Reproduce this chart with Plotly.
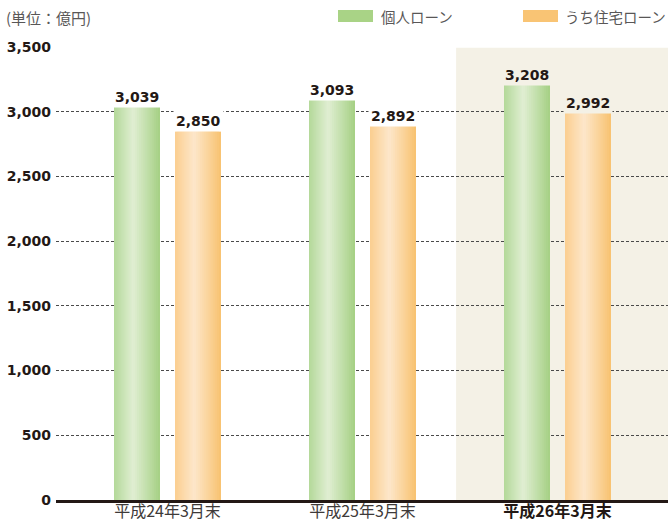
import plotly.graph_objects as go

# ---------------- data ----------------
categories = ["平成24年3月末", "平成25年3月末", "平成26年3月末"]
series_names = ["個人ローン", "うち住宅ローン"]
kojin_loan = [3039, 3093, 3208]
jutaku_loan = [2850, 2892, 2992]
y_ticks = [0, 500, 1000, 1500, 2000, 2500, 3000, 3500]
unit_label = "(単位：億円)"
highlight_index = 2

# ---------------- style ----------------
W, H = 668, 522
ML, MR, MT, MB = 56, 0, 47, 22
PX_PER_CAT = 195.0
X_RANGE = [-111.5 / PX_PER_CAT, -111.5 / PX_PER_CAT + (W - ML - MR) / PX_PER_CAT]
BAR_W = 46 / PX_PER_CAT
CENTER_OFF = 30.5 / PX_PER_CAT

NUM_FONT = "DejaVu Sans"
CJK_FONT = "Noto Sans CJK JP"
DARK = "#231815"
GRAY = "#595757"
SHADE = "#f4f1e6"

# gradient (left edge, centre, right edge, legend colour)
grad = [
    ("#b5d99b", "#e2efd5", "#a7d186", "#a9d386"),
    ("#fbcf92", "#fde8cd", "#f8c373", "#f9c474"),
]
TC = 0.42
N = 14


def hex2rgb(h):
    h = h.lstrip("#")
    return tuple(int(h[i:i + 2], 16) for i in (0, 2, 4))


def lerp(c1, c2, t):
    a, b = hex2rgb(c1), hex2rgb(c2)
    return "rgb({},{},{})".format(*[round(a[i] + (b[i] - a[i]) * t) for i in range(3)])


fig = go.Figure()
series_values = [kojin_loan, jutaku_loan]

for s, vals in enumerate(series_values):
    left_c, mid_c, right_c, _ = grad[s]
    cen = -CENTER_OFF if s == 0 else CENTER_OFF
    start = cen - BAR_W / 2
    for k in range(N):
        f = k / N
        l = TC * f
        r = TC + 0.03
        fig.add_trace(go.Bar(
            x=categories, y=vals, width=(r - l) * BAR_W, offset=start + l * BAR_W,
            marker=dict(color=lerp(left_c, mid_c, f), line=dict(width=0)),
            hoverinfo="skip" if k else "x+y", showlegend=False, name=series_names[s]))
    for k in range(N):
        f = k / N
        l = TC
        r = 1 - (1 - TC) * f
        fig.add_trace(go.Bar(
            x=categories, y=vals, width=(r - l) * BAR_W, offset=start + l * BAR_W,
            marker=dict(color=lerp(right_c, mid_c, f), line=dict(width=0)),
            hoverinfo="skip", showlegend=False, name=series_names[s]))

annotations = []
for s, vals in enumerate(series_values):
    cen_px = (-CENTER_OFF if s == 0 else CENTER_OFF) * PX_PER_CAT
    for i, v in enumerate(vals):
        annotations.append(dict(
            x=categories[i], y=v, xref="x", yref="y", xshift=cen_px, yshift=-1,
            text=f"{v:,}", showarrow=False, yanchor="bottom", xanchor="center",
            font=dict(family=NUM_FONT, size=14, color=DARK, weight="bold"),
            bgcolor=SHADE if i == highlight_index else "white", borderpad=2))

plot_w = W - ML - MR
plot_h = H - MT - MB


def px_x(px):
    return (px - ML) / plot_w


def px_y(py):
    return (H - MB - py) / plot_h


annotations.append(dict(
    x=px_x(4), y=px_y(17), xref="paper", yref="paper", text=unit_label,
    showarrow=False, xanchor="left", yanchor="middle",
    font=dict(family=CJK_FONT, size=15, color=GRAY)))

shapes = []
legend_boxes = [(338, 373, 379), (523, 558, 563)]
for s, (x0, x1, tx) in enumerate(legend_boxes):
    shapes.append(dict(type="rect", xref="paper", yref="paper",
                       x0=px_x(x0), x1=px_x(x1), y0=px_y(22), y1=px_y(10),
                       fillcolor=grad[s][3], line=dict(width=0)))
    annotations.append(dict(
        x=px_x(tx), y=px_y(16), xref="paper", yref="paper", text=series_names[s],
        showarrow=False, xanchor="left", yanchor="middle",
        font=dict(family=CJK_FONT, size=14.5, color=GRAY)))

shapes.append(dict(type="rect", xref="x", yref="y", layer="below",
                   x0=highlight_index - 0.52, x1=X_RANGE[1] + 1,
                   y0=0, y1=y_ticks[-1] - 5,
                   fillcolor=SHADE, line=dict(width=0)))

ticktext = []
for i, c in enumerate(categories):
    if i == highlight_index:
        ticktext.append(f"<span style='color:{DARK}'><b>{c}</b></span>")
    else:
        ticktext.append(c)

fig.update_layout(
    width=W, height=H,
    margin=dict(l=ML, r=MR, t=MT, b=MB, autoexpand=False),
    paper_bgcolor="white", plot_bgcolor="white",
    barmode="overlay",
    showlegend=False,
    annotations=annotations,
    shapes=shapes,
    xaxis=dict(
        type="category", range=X_RANGE, tickmode="array",
        tickvals=categories, ticktext=ticktext,
        tickfont=dict(family=CJK_FONT, size=16, color="#3e3a39"),
        showgrid=False, showline=True, linecolor=DARK, linewidth=2.5,
        ticks="", ticklabelstandoff=-5, fixedrange=True,
    ),
    yaxis=dict(
        range=[0, y_ticks[-1]], tickmode="array", tickvals=y_ticks,
        tickformat=",", tickfont=dict(family=NUM_FONT, size=14, color=DARK, weight="bold"),
        showgrid=True, gridcolor="#4a4a4a", gridwidth=1, griddash="3px,2px",
        zeroline=False, showline=False, ticks="", ticklabelstandoff=4,
        fixedrange=True,
    ),
)

fig.write_html("out.html", config={"displayModeBar": False},
               post_script="document.body.style.margin='0';document.body.style.padding='0';")
